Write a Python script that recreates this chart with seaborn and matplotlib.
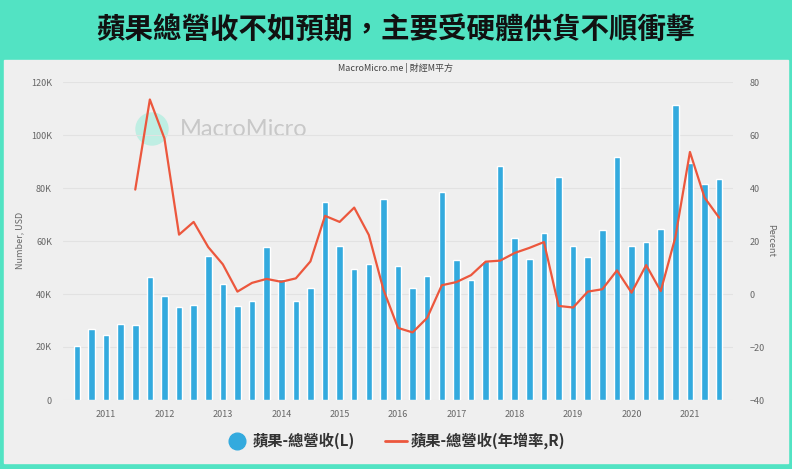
import matplotlib.pyplot as plt
import numpy as np
import pandas as pd
import seaborn as sns
from matplotlib.lines import Line2D
from matplotlib.patches import Circle, Rectangle
from matplotlib.transforms import IdentityTransform

# Apple total revenue by quarter (million USD), Sep 2010 .. Sep 2021
quarters = [str(p) for p in pd.period_range("2010Q3", "2021Q3", freq="Q")]
revenue = [
    20300, 26700, 24700, 28600, 28300, 46300, 39200, 35000, 36000,
    54500, 43600, 35300, 37500, 57600, 45600, 37400, 42100, 74600,
    58000, 49600, 51500, 75900, 50600, 42400, 46900, 78400, 52900,
    45400, 52600, 88300, 61100, 53300, 62900, 84300, 58000, 53800,
    64000, 91800, 58300, 59700, 64700, 111400, 89600, 81400, 83400,
]
# YoY growth (%), starts one year after the first bar
growth = [
    39.4, 73.4, 58.7, 22.4, 27.2, 17.7, 11.2, 0.9, 4.2, 5.7, 4.6,
    5.9, 12.3, 29.5, 27.2, 32.6, 22.3, 1.7, -12.8, -14.5, -9.0, 3.3,
    4.5, 7.1, 12.2, 12.6, 15.5, 17.4, 19.6, -4.5, -5.1, 0.9, 1.8,
    8.9, 0.5, 10.9, 1.1, 21.4, 53.6, 36.4, 28.8,
]
years = [str(y) for y in range(2011, 2022)]

teal = "#52e3c3"
panel = "#efefef"
bar_color = "#33aade"
line_color = "#ec573d"
tick_color = "#666666"

sns.set_theme(style="white")
plt.rcParams["font.family"] = ["Noto Sans CJK TC", "DejaVu Sans"]

fig = plt.figure(figsize=(7.92, 4.69), dpi=100, facecolor=teal)
fig.add_artist(Rectangle((4 / 792, 1 - 463 / 469), 784 / 792, 403 / 469,
                         transform=fig.transFigure, color=panel, zorder=-10))
# watermark
fig.add_artist(Circle((152, 469 - 129), 16, transform=IdentityTransform(),
                      color="#bfeee3", zorder=-5))
fig.text(180 / 792, 1 - 130 / 469, "MacroMicro", fontsize=17, color="#c8c8c8",
         family="Lato", va="center", ha="left", zorder=-5)

ax = fig.add_axes([63 / 792, 1 - 400 / 469, 670 / 792, 318 / 469])
ax.patch.set_alpha(0)

df_bar = pd.DataFrame({"quarter": quarters, "revenue": revenue})
sns.barplot(data=df_bar, x="quarter", y="revenue", color=bar_color,
            saturation=1, width=0.45, ax=ax, zorder=2)

ax.set_ylim(0, 120000)
ax.set_xlim(-0.95, 44.95)
ax.set_yticks(np.arange(0, 120001, 20000))
ax.set_yticklabels(["0", "20K", "40K", "60K", "80K", "100K", "120K"])
ax.set_xticks([2 + 4 * i for i in range(len(years))])
ax.set_xticklabels(years)
ax.tick_params(axis="both", length=0, labelsize=6.5, labelcolor=tick_color)
ax.tick_params(axis="y", pad=8)
ax.tick_params(axis="x", pad=7)
ax.set_xlabel("")
ax.set_ylabel("")
ax.yaxis.grid(True, color="#e2e2e2", lw=0.8, zorder=0)
ax.set_axisbelow(True)
for s in ax.spines.values():
    s.set_visible(False)

ax2 = ax.twinx()
df_line = pd.DataFrame({"x": np.arange(4, 4 + len(growth)), "growth": growth})
sns.lineplot(data=df_line, x="x", y="growth", color=line_color, lw=1.6, ax=ax2)
ax2.set_ylim(-40, 80)
ax2.set_yticks(np.arange(-40, 81, 20))
ax2.tick_params(axis="y", length=0, labelsize=6.5, labelcolor=tick_color, pad=12)
ax2.set_ylabel("")
ax2.set_xlabel("")
ax2.grid(False)
for s in ax2.spines.values():
    s.set_visible(False)

fig.text(20 / 792, 1 - 240 / 469, "Number, USD", rotation=90, ha="center",
         va="center", fontsize=6.5, color=tick_color)
fig.text(771 / 792, 1 - 240 / 469, "Percent", rotation=270, ha="center",
         va="center", fontsize=6.5, color=tick_color)

fig.text(0.5, 1 - 31 / 469, "蘋果總營收不如預期，主要受硬體供貨不順衝擊",
         ha="center", va="center", fontsize=20.5, fontweight="bold", color="#111111")
fig.text(0.5, 1 - 68 / 469, "MacroMicro.me | 財經M平方", ha="center", va="center",
         fontsize=6.5, color="#444444")

handles = [
    Line2D([], [], marker="o", ls="", color=bar_color, markersize=12),
    Line2D([], [], color=line_color, lw=2),
]
fig.legend(handles, ["蘋果-總營收(L)", "蘋果-總營收(年增率,R)"], loc="center",
           bbox_to_anchor=(0.5, 1 - 441 / 469), ncol=2, frameon=False,
           prop={"size": 11, "weight": "bold"}, handlelength=1.4,
           handletextpad=0.3, columnspacing=2.0, labelcolor="#333333")

fig.savefig("out.png", dpi=100, facecolor=teal)
